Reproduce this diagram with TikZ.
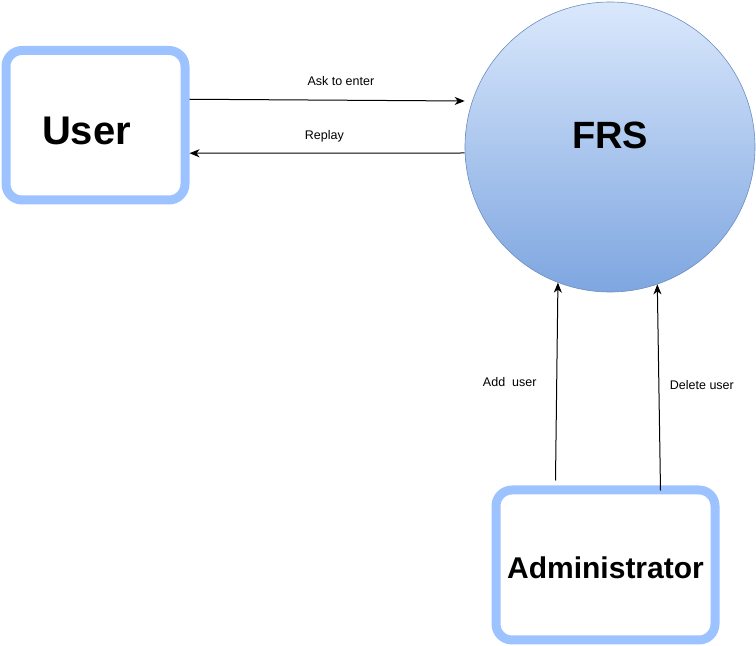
\documentclass[tikz,border=0pt]{standalone}
\usepackage{fontspec}
\setmainfont{Liberation Sans}
\usetikzlibrary{shapes.geometric, arrows.meta}
\definecolor{boxblue}{HTML}{9CC3FF}
\definecolor{frstop}{HTML}{DAE8FC}
\definecolor{frsbot}{HTML}{7EA6E0}
\definecolor{frsline}{HTML}{6C8EBF}
\tikzstyle{entity} = [rectangle, rounded corners=16pt, line width=9pt, draw=boxblue, fill=white, text centered, font=\fontsize{40}{48}\selectfont\bfseries]
\tikzstyle{process} = [circle, minimum size=290pt, draw=frsline, line width=0.6pt, top color=frstop, bottom color=frsbot, text depth=24pt, font=\fontsize{38}{46}\selectfont\bfseries]
\tikzstyle{arrow} = [line width=1pt, -{Stealth[length=10pt,width=8pt,inset=3pt]}]
\tikzstyle{flow} = [font=\fontsize{12.5}{15}\selectfont]

\begin{document}
\begin{tikzpicture}[x=1pt, y=1pt]
\useasboundingbox (0,0) rectangle (756,646);
\node (user) [entity, minimum width=179pt, minimum height=149.5pt, text height=38.6pt] at (95.5,520.75) {\hspace*{-18pt}User};
\node (frs) [process] at (610,499) {FRS};
\node (admin) [entity, minimum width=219pt, minimum height=150pt, text height=27.5pt, font=\fontsize{30}{36}\selectfont\bfseries] at (605.5,81) {Administrator};

\draw [arrow] ([yshift=26]user.east) -- node[flow, pos=.55, yshift=19] {Ask to enter} ([yshift=46]frs.west);
\draw [arrow] ([yshift=-6]frs.west) -- node[flow, pos=.51, yshift=17] {Replay} ([yshift=-28]user.east);
\draw [arrow] ([xshift=-50,yshift=5]admin.north) -- node[flow, pos=.5, xshift=-47] {Add\ \ user} (frs.-111);
\draw [arrow] ([xshift=55,yshift=-5]admin.north) -- node[flow, pos=.51, xshift=43] {Delete user} (frs.-71);
\end{tikzpicture}
\end{document}
